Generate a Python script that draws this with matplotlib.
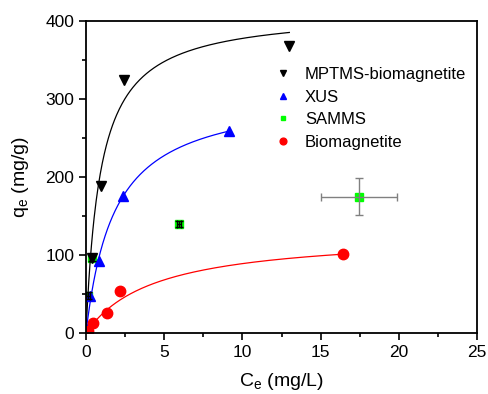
import numpy as np
import matplotlib.pyplot as plt
from matplotlib.ticker import MultipleLocator

plt.rcParams['font.family'] = ['Liberation Sans', 'DejaVu Sans']
plt.rcParams['font.size'] = 12.5

# data
mptms_c = [0.36, 0.96, 2.45, 13.0]
mptms_q = [96, 189, 324, 368]
xus_c = [0.05, 0.26, 0.85, 2.39, 9.16]
xus_q = [5, 47, 92, 176, 259]
samms_c = [0.15, 0.36, 5.95, 17.45]
samms_q = [48, 96, 140, 175]
samms_xerr = [0.12, 0.12, 0.15, 2.45]
samms_yerr = [4, 4, 4, 24]
bio_c = [0.15, 0.47, 1.36, 2.15, 16.4]
bio_q = [3, 13, 26, 54, 101]

# Langmuir fit parameters (qm, K, max C)
fits = {
    'black': (413, 1.07, 13.0),
    'blue': (310.6, 0.547, 9.16),
    'red': (128.2, 0.2267, 16.4),
}

fig = plt.figure(figsize=(4.88, 3.94), dpi=100)
ax = fig.add_axes([0.1762, 0.1548, 0.8013, 0.7919])

for col, (qm, k, cmax) in fits.items():
    c = np.linspace(0, cmax, 300)
    ax.plot(c, qm * k * c / (1 + k * c), color=col, lw=0.9)

ax.plot(mptms_c, mptms_q, 'v', color='black', ms=7, ls='none', label='MPTMS-biomagnetite')
ax.plot(xus_c, xus_q, '^', color='#0000ff', ms=7, ls='none', label='XUS')
ecol = ['black', 'black', 'black', 'gray']
for i in range(len(samms_c)):
    ax.errorbar(samms_c[i], samms_q[i], xerr=samms_xerr[i], yerr=samms_yerr[i],
                fmt='none', ecolor=ecol[i], elinewidth=1, capsize=3)
ax.plot(samms_c, samms_q, 's', color='#00ff00', ms=5.5, ls='none', label='SAMMS', zorder=1.5)
ax.plot(bio_c, bio_q, 'o', color='#ff0000', ms=7.5, ls='none', label='Biomagnetite')

ax.set_xlim(0, 25)
ax.set_ylim(0, 400)
ax.xaxis.set_major_locator(MultipleLocator(5))
ax.xaxis.set_minor_locator(MultipleLocator(2.5))
ax.yaxis.set_major_locator(MultipleLocator(100))
ax.yaxis.set_minor_locator(MultipleLocator(50))
ax.tick_params(which='major', direction='out', length=5, width=1.2, top=False, right=False,
               labelsize=12.5)
ax.tick_params(which='minor', direction='out', length=3, width=1.2, top=False, right=False)
for s in ax.spines.values():
    s.set_linewidth(1.3)

ax.set_xlabel('C$_\\mathregular{e}$ (mg/L)', fontsize=14, labelpad=8)
ax.set_ylabel('q$_\\mathregular{e}$ (mg/g)', fontsize=14, labelpad=10)

ax.legend(loc='upper left', bbox_to_anchor=(0.44, 0.9), frameon=False, markerscale=0.65,
          handlelength=1.2, handletextpad=0.72, labelspacing=0.45, fontsize=12)

fig.savefig('out.png', dpi=100)
